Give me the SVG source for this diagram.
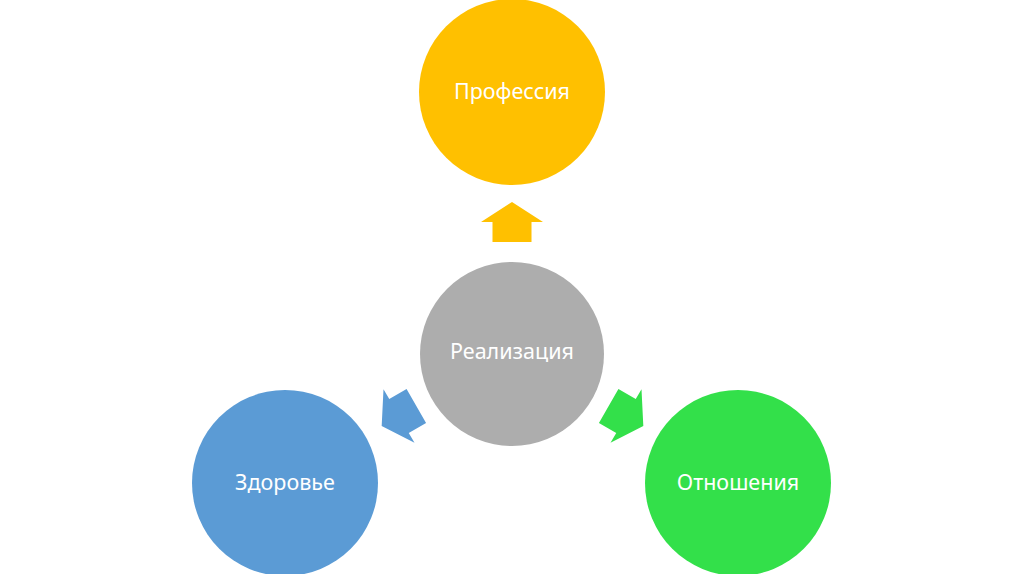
<svg xmlns="http://www.w3.org/2000/svg" width="1024" height="574" viewBox="0 0 1024 574">
<defs>
<style>
.lbl{font-family:"Noto Sans","Open Sans","Liberation Sans",sans-serif;font-size:21.5px;fill:#ffffff;text-anchor:middle}
</style>
<path id="arr" d="M0,-20 L31,0 L19.5,0 L19.5,20 L-19.5,20 L-19.5,0 L-31,0 Z"/>
</defs>
<rect width="1024" height="574" fill="#ffffff"/>
<g id="connectors">
<use href="#arr" transform="translate(512,222)" fill="#FFC000"/>
<use href="#arr" transform="translate(399,416) rotate(-120)" fill="#5B9BD5"/>
<use href="#arr" transform="translate(626,416) rotate(120)" fill="#33E04A"/>
</g>
<g id="n-prof">
<circle cx="512" cy="92" r="93" fill="#FFC000"/>
<text class="lbl" x="512" y="99">Профессия</text>
</g>
<g id="n-real">
<circle cx="512" cy="354" r="92" fill="#ADADAD"/>
<text class="lbl" x="512" y="359">Реализация</text>
</g>
<g id="n-zdor">
<circle cx="285" cy="483" r="93" fill="#5B9BD5"/>
<text class="lbl" x="285" y="490">Здоровье</text>
</g>
<g id="n-otn">
<circle cx="738" cy="483" r="93" fill="#33E04A"/>
<text class="lbl" x="738" y="490">Отношения</text>
</g>
</svg>
